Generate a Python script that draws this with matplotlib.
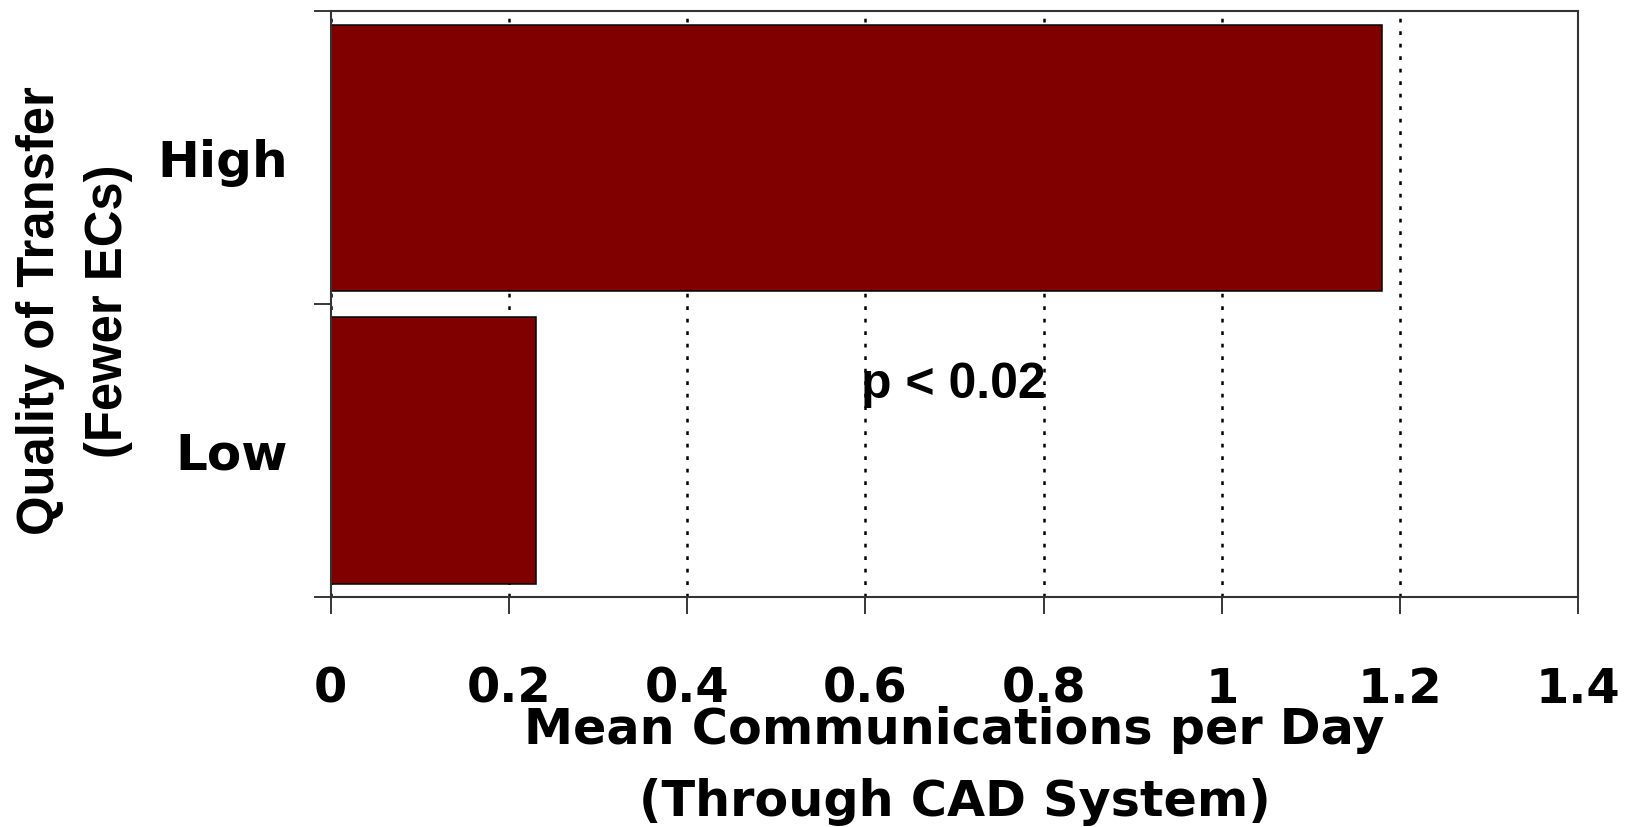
import matplotlib
matplotlib.use("Agg")
import matplotlib.pyplot as plt
from matplotlib.ticker import FixedLocator, NullFormatter

# values
categories = ["Low", "High"]
mean_comms = [0.23, 1.18]
x_ticks = [0, 0.2, 0.4, 0.6, 0.8, 1.0, 1.2, 1.4]
x_tick_labels = ["0", "0.2", "0.4", "0.6", "0.8", "1", "1.2", "1.4"]
p_text = "p < 0.02"

fig = plt.figure(figsize=(16.33, 8.27), dpi=100)
ax = fig.add_axes([0.2025, 0.2785, 0.764, 0.7078])

# one category per unit band, ticks sit on the band edges
pos = [i + 0.5 for i in range(len(categories))]
ax.barh(pos, mean_comms, height=0.91, color="#800000", edgecolor="black",
        linewidth=1.1, zorder=2)

ax.set_xlim(0, 1.4)
ax.set_ylim(0, len(categories))

# x axis
ax.set_xticks(x_ticks)
ax.set_xticklabels(x_tick_labels, fontsize=34.5, fontweight="bold")
ax.tick_params(axis="x", length=12.2, width=1.1, pad=37.5, direction="out")

# y axis: major ticks on the edges, labels on minor ticks at the centres
ax.yaxis.set_major_locator(FixedLocator([0, 1, 2]))
ax.yaxis.set_major_formatter(NullFormatter())
ax.set_yticks(pos, minor=True)
ax.set_yticklabels(categories, minor=True, fontsize=36, fontweight="bold")
ax.tick_params(axis="y", which="major", length=12.2, width=1.1, direction="out")
ax.tick_params(axis="y", which="minor", length=0, pad=31)

# dotted vertical grid behind the bars
ax.set_axisbelow(True)
ax.grid(axis="x", which="major", color="black", linestyle=(0, (1.5, 3.5)),
        linewidth=1.8)

for s in ax.spines.values():
    s.set_color("#333333")
    s.set_linewidth(1.5)

# labels anchored on the baseline of their last line
ax.set_xlabel("Mean Communications per Day\n(Through CAD System)",
              fontsize=35.5, fontweight="bold", linespacing=1.65, va="baseline")
ax.xaxis.set_label_coords(0.5, -0.3751)

ax.set_ylabel("Quality of Transfer\n(Fewer ECs)", family="Liberation Sans",
              fontsize=36.5, fontweight="bold", linespacing=1.5, va="baseline")
ax.yaxis.set_label_coords(-0.1825, 0.488)

ax.text(0.595, 0.678, p_text, family="Liberation Sans", fontweight="bold",
        fontsize=36, ha="left", va="baseline", zorder=3)

fig.savefig("out.png", dpi=100)
